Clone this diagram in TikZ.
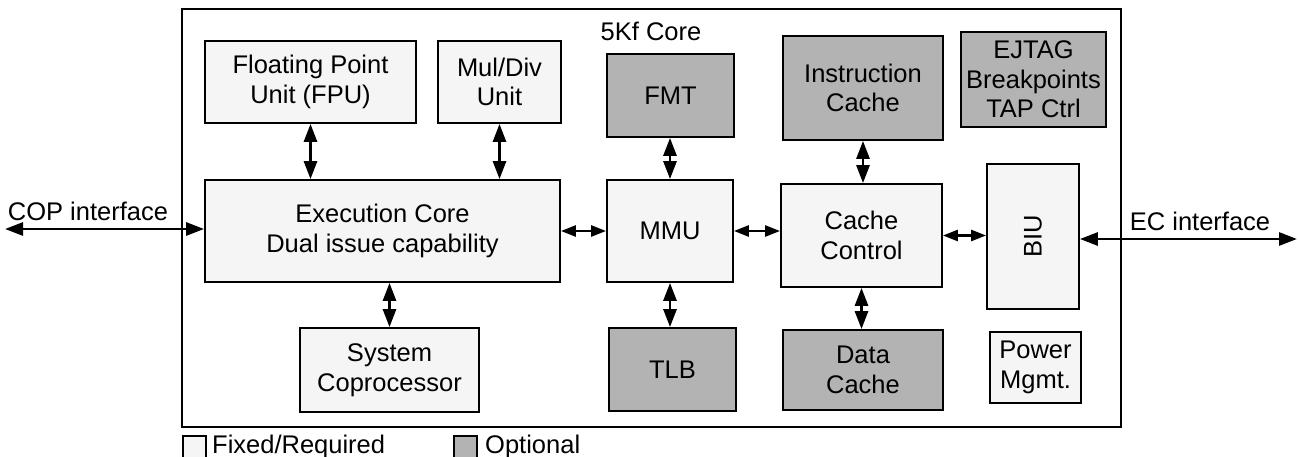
\documentclass[tikz,border=0pt]{standalone}
\usepackage{fontspec}
\setmainfont{Liberation Sans}
\usetikzlibrary{arrows.meta}
\definecolor{fixedfill}{HTML}{F5F5F5}
\definecolor{optfill}{HTML}{B3B3B3}
\begin{document}
\begin{tikzpicture}[x=1pt,y=-1pt,
  every node/.style={font=\fontsize{25.5}{29.5}\selectfont, inner sep=0pt},
  blk/.style={draw, line width=1.8pt, align=center, fill=fixedfill},
  optblk/.style={blk, fill=optfill},
  arr/.style={line width=2.8pt, {Triangle[length=18pt,width=13pt]}-{Triangle[length=18pt,width=13pt]}},
  sarr/.style={line width=2.6pt, {Triangle[length=15pt,width=11pt]}-{Triangle[length=15pt,width=11pt]}}
]
\useasboundingbox (0,0) rectangle (1298,457);
% outer core boundary
\draw[line width=1.8pt] (182,9) rectangle (1121,427);
\node (title) at (651,31) {5Kf Core};

% blocks
\node[blk, minimum width=211pt, minimum height=82pt] (fpu) at (310.5,82) {Floating Point\\Unit (FPU)};
\node[blk, minimum width=123pt, minimum height=82pt] (muldiv) at (499.5,82) {Mul/Div\\Unit};
\node[optblk, minimum width=127pt, minimum height=83pt] (fmt) at (670.5,95.5) {FMT};
\node[optblk, minimum width=160pt, minimum height=104pt] (icache) at (863,88) {Instruction\\Cache};
\node[optblk, minimum width=145pt, minimum height=95pt] (ejtag) at (1033.5,79.5) {EJTAG\\Breakpoints\\TAP Ctrl};
\node[blk, minimum width=355pt, minimum height=102pt] (exec) at (382.5,231) {Execution Core\\Dual issue capability};
\node[blk, minimum width=126pt, minimum height=102pt] (mmu) at (670,231) {MMU};
\node[blk, minimum width=161pt, minimum height=103pt] (cc) at (861.5,235.5) {Cache\\Control};
\node[blk, minimum width=92pt, minimum height=145pt] (biu) at (1033,236.5) {};
\node[rotate=90] (biutext) at (biu.center) {BIU};
\node[blk, minimum width=179pt, minimum height=84pt] (syscop) at (389.5,370) {System\\Coprocessor};
\node[optblk, minimum width=127pt, minimum height=83pt] (tlb) at (672.5,369.5) {TLB};
\node[optblk, minimum width=160pt, minimum height=80pt] (dcache) at (863,370) {Data\\Cache};
\node[blk, minimum width=91pt, minimum height=71pt] (power) at (1035.5,367.5) {Power\\Mgmt.};

% vertical connectors
\draw[arr] (fpu.south) -- (fpu.south |- exec.north);
\draw[arr] (muldiv.south) -- (muldiv.south |- exec.north);
\draw[arr] (fmt.south -| mmu.center) -- (mmu.north);
\draw[arr] (icache.south) -- (icache.south |- cc.north);
\draw[arr] (exec.south -| syscop.north) -- (syscop.north);
\draw[arr] (mmu.south) -- (mmu.south |- tlb.north);
\draw[arr] (cc.south) -- (cc.south |- dcache.north);

% horizontal connectors
\draw[sarr] (exec.east) -- (mmu.west);
\draw[sarr] (mmu.east) -- (mmu.east -| cc.west);
\draw[sarr] (cc.east) -- (cc.east -| biu.west);

% external interfaces
\coordinate (copend) at (5,229);
\coordinate (ecend) at (1297,239);
\draw[arr] (copend) -- (copend -| exec.west);
\draw[arr] (ecend -| biu.east) -- (ecend);
\node[anchor=base] (coplabel) at (88,220) {COP interface};
\node[anchor=base] (eclabel) at (1200,230) {EC interface};

% legend
\node[draw, line width=1.5pt, fill=fixedfill, minimum width=23pt, minimum height=26pt, anchor=north west] (legfixed) at (182,435) {};
\node[anchor=base west] (legfixedtext) at (212,453) {Fixed/Required};
\node[draw, line width=1.5pt, fill=optfill, minimum width=23pt, minimum height=26pt, anchor=north west] (legopt) at (453,435) {};
\node[anchor=base west] (legopttext) at (485,453) {Optional};
\end{tikzpicture}
\end{document}
